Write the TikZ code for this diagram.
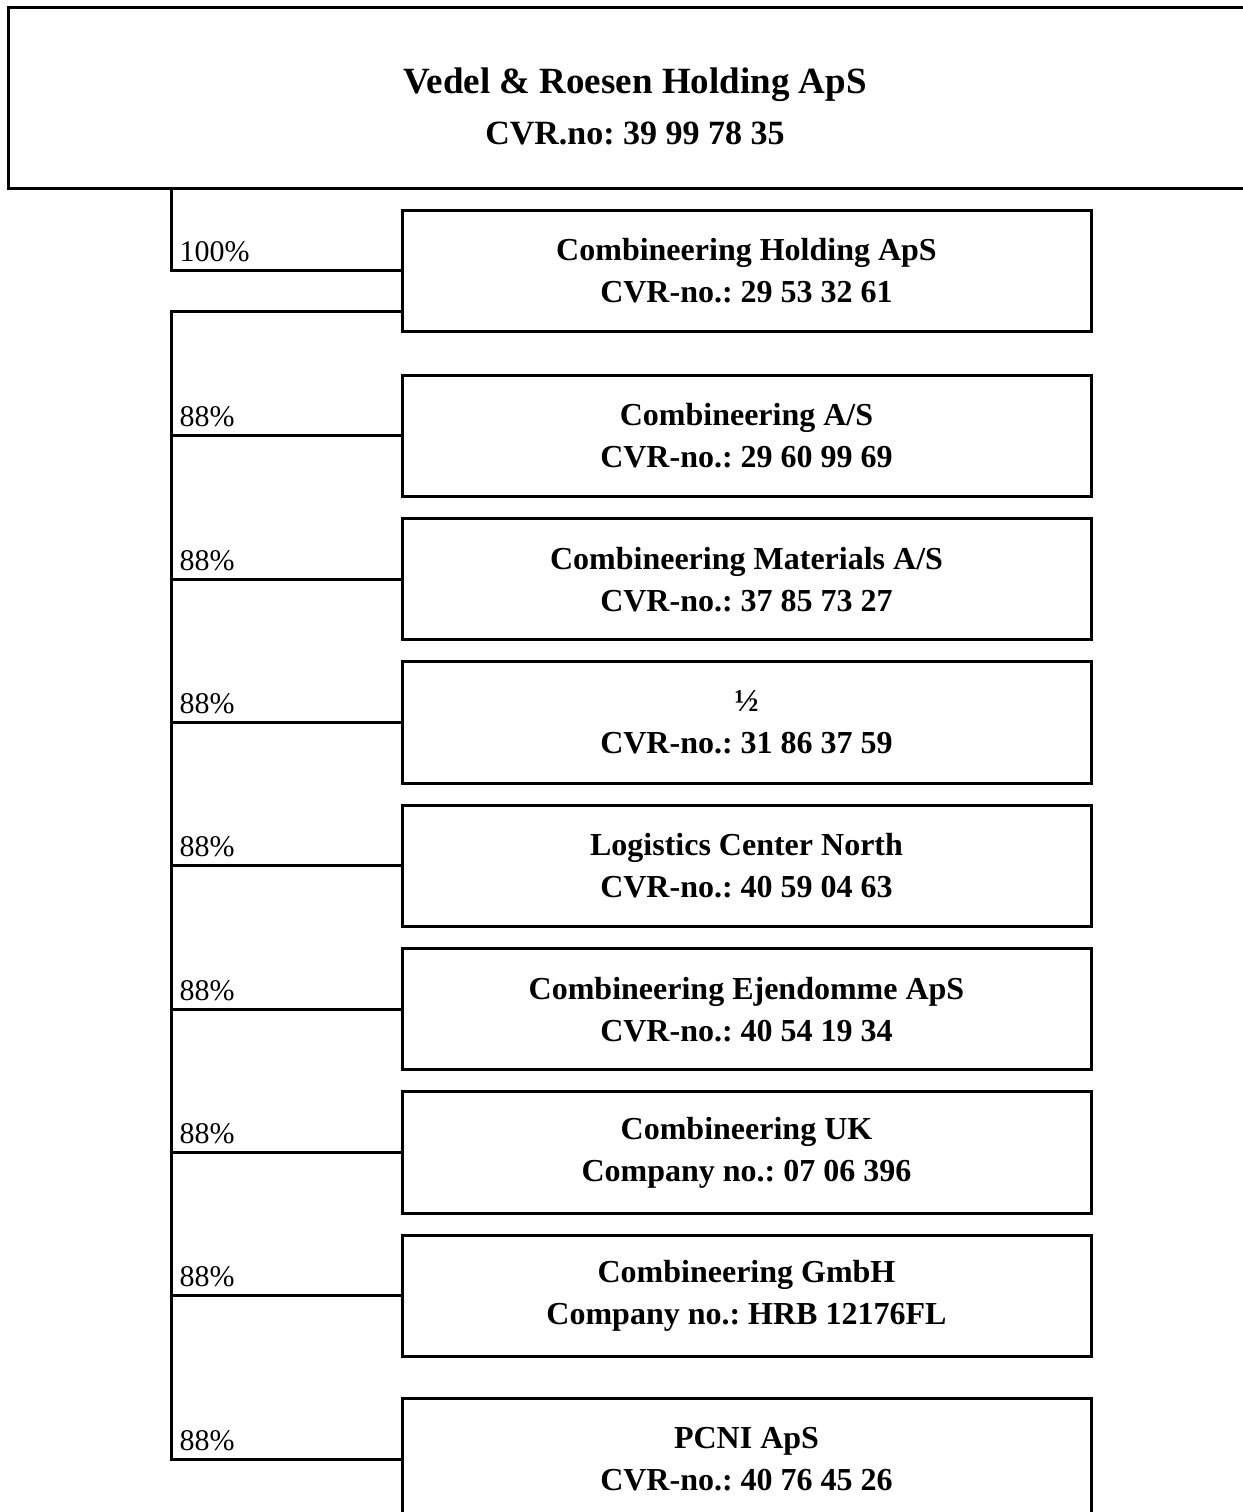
\documentclass[tikz,border=0pt]{standalone}
\usepackage{fontspec}
\setmainfont{Liberation Serif}
\usetikzlibrary{positioning}
\frenchspacing

\begin{document}
\begin{tikzpicture}[
        x=1pt, y=-1pt, node distance=22pt,
        Firm/.style={draw, line width=3pt, minimum width=689pt, minimum height=121.3pt, outer sep=0pt, align=center, font=\bfseries\fontsize{32}{42}\selectfont},
        Pct/.style={anchor=base west, inner sep=0pt, xshift=7pt, yshift=9pt, font=\fontsize{30}{36}\selectfont},
        Link/.style={line width=3pt},
        ]
    \useasboundingbox (0,0) rectangle (1242,1512);
    \coordinate (trunk) at (171,0);
    % owner
    \node [draw, line width=3pt, minimum width=1254pt, minimum height=180pt, outer sep=0pt] (top) at (635,98) {};
    \node [align=center, font=\bfseries\fontsize{37}{47}\selectfont] (title) at ([yshift=-8pt]top.center)
        {Vedel \& Roesen Holding ApS\\[4pt]{\fontsize{34}{47}\selectfont CVR.no: 39 99 78 35}};
    % subsidiaries
    \node [Firm] (ch) at (746.5,270.65) {Combineering Holding ApS\\CVR-no.: 29 53 32 61};
    \node [Firm, below=44pt of ch] (cas) {Combineering A/S\\CVR-no.: 29 60 99 69};
    \node [Firm, below=of cas] (mat) {Combineering Materials A/S\\CVR-no.: 37 85 73 27};
    \node [Firm, below=of mat] (half) {½\\CVR-no.: 31 86 37 59};
    \node [Firm, below=of half] (lcn) {Logistics Center North\\CVR-no.: 40 59 04 63};
    \node [Firm, below=of lcn] (ejd) {Combineering Ejendomme ApS\\CVR-no.: 40 54 19 34};
    \node [Firm, below=of ejd] (uk) {Combineering UK\\Company no.: 07 06 396};
    \node [Firm, below=of uk] (gmbh) {Combineering GmbH\\Company no.: HRB 12176FL};
    \node [Firm, below=42pt of gmbh] (pcni) {PCNI ApS\\CVR-no.: 40 76 45 26};
    \coordinate (split) at ([yshift=-40.35pt]ch.west);

    \begin{scope}[Link]
        \draw (top.south -| trunk) |- (ch.west) node [Pct, pos=0.5] {100\%};
        \draw (split) -| (pcni.west -| trunk) node [Pct] {88\%} -- (pcni.west);
        \foreach \n in {cas,mat,half,lcn,ejd,uk,gmbh}
            \draw (\n.west -| trunk) node [Pct] {88\%} -- (\n.west);
    \end{scope}
\end{tikzpicture}
\end{document}
